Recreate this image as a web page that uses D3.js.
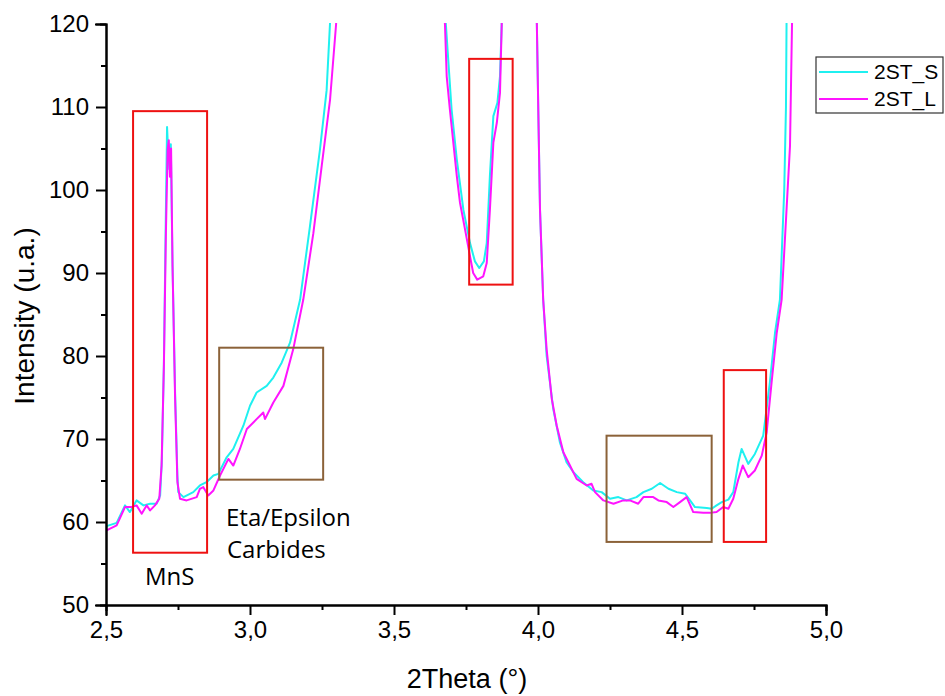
<!DOCTYPE html>
<html><head><meta charset="utf-8">
<script src="https://cdn.jsdelivr.net/npm/d3@7"></script>
<style>body{margin:0;background:#fff}svg{display:block}</style>
</head><body>
<script>
// 2ST_S (cyan) series: [2Theta, Intensity]
const seriesS = [
[2.502,59.5],[2.537,59.9],[2.566,62.0],[2.583,61.2],[2.606,62.6],[2.630,62.0],[2.653,62.2],[2.676,62.2],[2.688,63.2],
[2.694,67.5],[2.701,79.0],[2.707,95.0],[2.712,107.6],[2.716,104.5],[2.720,102.5],[2.725,105.5],[2.731,91.0],[2.740,75.5],[2.748,65.5],
[2.751,63.6],[2.769,63.0],[2.803,63.6],[2.826,64.4],[2.849,64.8],[2.873,65.6],[2.890,65.8],[2.919,67.8],[2.942,68.8],[2.977,71.6],
[3.000,74.0],[3.023,75.6],[3.058,76.4],[3.081,77.4],[3.110,79.2],[3.139,81.6],[3.174,86.8],[3.208,95.6],[3.243,104.9],[3.266,112.0],
[3.285,125],[3.30,140],[3.64,140],[3.672,125],
[3.680,120],[3.700,109.7],[3.718,103.7],[3.741,97.6],[3.764,93.6],[3.781,91.4],[3.796,90.6],[3.812,91.4],[3.822,93.6],[3.833,101.7],
[3.845,108.9],[3.859,110.5],[3.868,113.7],[3.874,120],[3.88,130],[3.99,130],
[3.996,120],[4.001,109.7],[4.007,97.6],[4.018,86.8],[4.030,80.0],[4.053,73.6],[4.076,69.6],[4.099,67.2],[4.123,66.0],[4.157,64.8],
[4.192,63.8],[4.221,63.6],[4.250,62.8],[4.279,63.0],[4.308,62.6],[4.342,63.0],[4.366,63.6],[4.395,64.0],[4.424,64.7],[4.453,64.0],
[4.482,63.6],[4.511,63.4],[4.528,62.6],[4.545,61.8],[4.586,61.7],[4.603,61.6],[4.620,62.0],[4.638,62.4],[4.661,62.7],[4.678,63.6],
[4.696,67.2],[4.707,68.8],[4.730,67.0],[4.753,68.2],[4.782,70.4],[4.805,76.8],[4.823,82.8],[4.840,86.8],[4.855,100],[4.861,110],[4.864,125]
];
// 2ST_L (magenta) series
const seriesL = [
[2.502,59.0],[2.537,59.6],[2.566,61.8],[2.589,61.8],[2.606,62.0],[2.624,61.0],[2.641,62.0],[2.653,61.4],[2.670,62.0],[2.685,62.8],
[2.693,66.8],[2.701,78.8],[2.708,94.8],[2.714,104.9],[2.718,106.0],[2.722,101.6],[2.726,105.0],[2.731,90.8],[2.740,74.8],[2.748,64.8],
[2.757,62.8],[2.780,62.6],[2.815,63.0],[2.826,64.0],[2.838,64.2],[2.855,63.2],[2.873,63.8],[2.896,65.6],[2.925,67.6],[2.942,66.8],
[2.965,68.8],[2.989,71.2],[3.023,72.4],[3.046,73.2],[3.052,72.4],[3.081,74.4],[3.116,76.4],[3.150,80.8],[3.185,86.8],[3.220,94.8],
[3.249,102.9],[3.278,110.9],[3.299,120],[3.31,135],[3.64,135],[3.668,125],
[3.677,119.9],[3.683,113.7],[3.694,109.7],[3.706,105.7],[3.718,101.7],[3.729,98.5],[3.747,95.2],[3.764,92.0],[3.775,90.0],[3.789,89.2],
[3.810,89.6],[3.822,91.2],[3.833,97.6],[3.845,105.7],[3.857,108.1],[3.868,111.7],[3.874,119.9],[3.88,130],[3.99,130],
[3.996,120],[4.001,109.7],[4.007,97.6],[4.018,86.8],[4.030,80.8],[4.048,74.8],[4.065,71.6],[4.088,68.4],[4.111,66.8],[4.134,65.2],
[4.169,64.4],[4.186,64.6],[4.198,63.6],[4.227,62.6],[4.262,62.2],[4.296,62.6],[4.319,62.6],[4.348,62.2],[4.366,63.0],[4.400,63.0],
[4.418,62.6],[4.447,62.4],[4.470,61.8],[4.493,62.4],[4.516,63.0],[4.539,61.2],[4.574,61.1],[4.597,61.1],[4.620,61.2],[4.643,61.8],
[4.661,61.6],[4.678,62.8],[4.696,65.2],[4.711,66.8],[4.730,65.4],[4.753,66.2],[4.777,68.0],[4.794,70.8],[4.811,76.8],[4.829,82.8],
[4.846,86.8],[4.875,105.3],[4.882,120],[4.886,125]
];
const seriesNames = ["2ST_S","2ST_L"];
const seriesColors = ["#1ff0f0","#ff14ff"];
const xTicks = [2.5,3.0,3.5,4.0,4.5,5.0];
const yTicks = [50,60,70,80,90,100,110,120];
// annotation boxes: [x0,x1,y0,y1]
const redBoxes = [[2.594,2.851,56.3,109.5],[3.761,3.912,88.6,115.8],[4.645,4.792,57.6,78.3]];
const brownBoxes = [[2.893,3.254,65.1,81.0],[4.238,4.603,57.6,70.4]];

const W=945,H=696;
const svg=d3.select("body").append("svg").attr("width",W).attr("height",H);
const x=d3.scaleLinear().domain([2.5,5.0]).range([106,826]);
const y=d3.scaleLinear().domain([50,120]).range([605,24]);
const fmt=d=>d.toFixed(1).replace(".",",");

svg.append("clipPath").attr("id","clip").append("rect")
  .attr("x",106).attr("y",23).attr("width",720).attr("height",582);

const line=d3.line().x(d=>x(d[0])).y(d=>y(d[1]));
const g=svg.append("g").attr("clip-path","url(#clip)");
[seriesS,seriesL].forEach((s,i)=>{
  g.append("path").datum(s).attr("d",line).attr("fill","none")
   .attr("stroke",seriesColors[i]).attr("stroke-width",2).attr("stroke-linejoin","round");
});

// boxes
redBoxes.forEach(b=>svg.append("rect").attr("x",x(b[0])).attr("y",y(b[3]))
  .attr("width",x(b[1])-x(b[0])).attr("height",y(b[2])-y(b[3]))
  .attr("fill","none").attr("stroke","#ee1111").attr("stroke-width",2));
brownBoxes.forEach(b=>svg.append("rect").attr("x",x(b[0])).attr("y",y(b[3]))
  .attr("width",x(b[1])-x(b[0])).attr("height",y(b[2])-y(b[3]))
  .attr("fill","none").attr("stroke","#8b6239").attr("stroke-width",2));

// axes
const xAxis=d3.axisBottom(x).tickValues(xTicks).tickFormat(fmt).tickSize(10).tickPadding(6);
const xMinor=d3.axisBottom(x).tickValues([2.75,3.25,3.75,4.25,4.75]).tickFormat("").tickSize(5);
const yAxis=d3.axisLeft(y).tickValues(yTicks).tickFormat(d3.format("d")).tickSize(10).tickPadding(7);
const yMinor=d3.axisLeft(y).tickValues([55,65,75,85,95,105,115]).tickFormat("").tickSize(5);
const styleAx=a=>{a.selectAll("path,line").attr("stroke","#000").attr("stroke-width",2);
  a.selectAll("text").attr("font-family","'Liberation Sans',Arial,sans-serif").attr("font-size",24).attr("fill","#000");};
svg.append("g").attr("transform","translate(0,605)").call(xMinor).call(styleAx);
svg.append("g").attr("transform","translate(0,605)").call(xAxis).call(styleAx);
svg.append("g").attr("transform","translate(106,0)").call(yMinor).call(styleAx);
svg.append("g").attr("transform","translate(106,0)").call(yAxis).call(styleAx);
svg.selectAll(".domain").attr("stroke-linecap","square");

// axis titles
svg.append("text").attr("x",467).attr("y",688).attr("text-anchor","middle")
  .attr("font-family","'Liberation Sans',Arial,sans-serif").attr("font-size",27).text("2Theta (°)");
svg.append("text").attr("transform","translate(34,316) rotate(-90)").attr("text-anchor","middle")
  .attr("font-family","'Liberation Sans',Arial,sans-serif").attr("font-size",28).text("Intensity (u.a.)");

// annotations
const af="'Open Sans','Noto Sans',sans-serif";
svg.append("text").attr("x",145).attr("y",585).attr("font-family",af).attr("font-size",24).text("MnS");
svg.append("text").attr("x",226).attr("y",526).attr("font-family",af).attr("font-size",24).text("Eta/Epsilon");
svg.append("text").attr("x",227).attr("y",558).attr("font-family",af).attr("font-size",24).text("Carbides");

// legend
const lg=svg.append("g");
lg.append("rect").attr("x",816).attr("y",57).attr("width",127).attr("height",56)
  .attr("fill","#fff").attr("stroke","#333").attr("stroke-width",1.2);
seriesNames.forEach((n,i)=>{
  const cy=72+i*27;
  lg.append("line").attr("x1",819).attr("x2",868).attr("y1",cy).attr("y2",cy)
    .attr("stroke",seriesColors[i]).attr("stroke-width",2);
  lg.append("text").attr("x",874).attr("y",cy+7).attr("font-family","'Liberation Sans',Arial,sans-serif")
    .attr("font-size",21).text(n);
});
</script>
</body></html>
